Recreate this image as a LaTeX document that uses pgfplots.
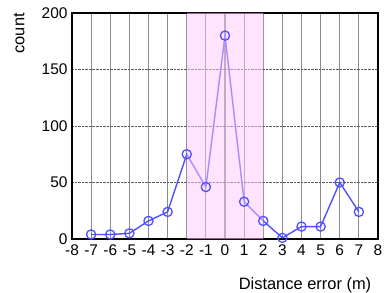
\documentclass[border=0pt]{standalone}
\usepackage{pgfplots}
\pgfplotsset{compat=1.18}
\usepackage{fontspec}
\setmainfont{Liberation Sans}
\definecolor{lineblue}{RGB}{80,80,255}
\definecolor{pinkover}{RGB}{255,200,255}
\begin{document}
\begin{tikzpicture}
\useasboundingbox (-72bp,-54bp) rectangle (313bp,239bp);
\begin{axis}[
  at={(0,0)}, anchor=south west,
  scale only axis, width=306bp, height=226bp,
  xmin=-8, xmax=8, ymin=0, ymax=200,
  xtick={-8,-7,...,8}, ytick={0,50,100,150,200},
  major tick length=0pt,
  /pgf/number format/assume math mode=true,
  tick label style={font=\fontsize{15.5}{17}\selectfont},
  label style={font=\fontsize{16.5}{18}\selectfont},
  xticklabel style={yshift=-2bp},
  yticklabel style={xshift=-1bp},
  grid=major,
  x grid style={black!45, line width=1.2bp},
  y grid style={black!65, densely dotted, line width=0.9bp},
  axis line style={black, line width=1.3bp},
  xlabel={Distance error (m)},
  ylabel={count},
  xlabel style={at={(axis description cs:0.9785,0)}, anchor=north east, yshift=-38bp, inner sep=0pt},
  ylabel style={at={(axis description cs:0,1)}, anchor=base east, yshift=47.5bp, inner sep=0pt},
]
\addplot[color=lineblue, line width=1.4bp, mark=o, mark size=4.6bp, mark options={line width=1.3bp}]
coordinates {(-7,4) (-6,4) (-5,5) (-4,16) (-3,24) (-2,75) (-1,46) (0,180) (1,33) (2,16) (3,1) (4,11) (5,11) (6,50) (7,24)};
\addplot[draw=none, fill=pinkover, fill opacity=0.5] coordinates {(-2,0) (-2,200) (2,200) (2,0)} \closedcycle;
\end{axis}
\end{tikzpicture}
\end{document}
